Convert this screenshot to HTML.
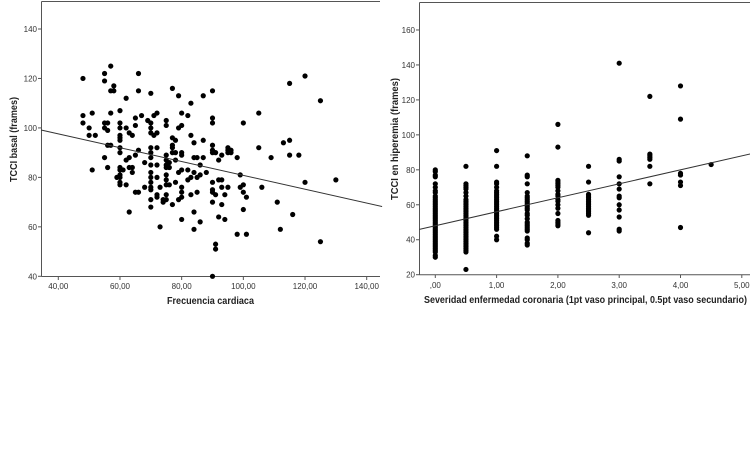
<!DOCTYPE html>
<html><head><meta charset="utf-8"><style>
html,body{margin:0;padding:0;background:#fff;}
svg{display:block;font-family:"Liberation Sans",Arial,sans-serif;}
</style></head><body>
<svg id="chart" width="750" height="469" viewBox="0 0 750 469" xmlns="http://www.w3.org/2000/svg"></svg>
<script>
// Chart 1 data: heart rate vs TCCI basal
const hr = [48,48,48,50,50,51,51,52,55,55,55,55,55,56,56,56,57,57,57,57,58,58,56,60,60,60,60,60,60,60,60,60,60,60,60,60,60,59,61,62,62,62,62,63,63,63,63,64,64,64,65,65,65,65,66,66,66,66,67,68,68,69,70,70,70,70,70,70,70,70,70,70,70,70,70,70,70,71,71,72,72,72,72,72,72,72,73,73,74,74,75,75,75,75,75,75,75,75,75,75,75,76,76,76,77,77,77,77,77,77,78,78,78,78,79,79,79,79,80,80,80,80,80,80,80,80,80,82,82,82,83,83,83,83,84,84,84,84,84,85,85,85,86,86,86,87,87,87,88,90,90,90,90,90,90,90,90,90,90,90,91,91,91,91,92,92,92,93,93,93,93,94,94,95,95,95,95,96,96,98,98,99,99,100,100,100,100,101,101,105,105,106,109,111,112,113,115,115,115,116,118,120,120,125,125,130];
const tcciBasal = [120,105,102,100,97,106,83,97,122,119,102,100,88,102,99,84,125,115,106,93,117,115,93,107,102,100,97,96,95,92,90,84,83,81,80,78,77,80,83,112,100,87,77,98,88,84,66,97,84,82,104,101,89,74,122,115,91,74,105,86,76,103,114,102,100,98,92,90,88,85,82,80,78,76,75,71,68,105,97,106,98,92,85,80,73,72,60,76,71,70,103,101,89,87,85,84,81,79,77,73,71,86,84,77,116,96,93,92,90,69,95,90,87,78,113,100,82,71,106,101,90,89,83,76,74,72,63,105,83,79,110,97,80,73,94,88,82,66,59,88,80,74,85,81,62,113,95,88,82,115,104,102,93,91,90,78,75,74,70,40,90,73,53,51,87,79,64,89,79,76,69,73,63,92,91,90,76,91,90,88,57,81,76,102,77,74,67,72,57,106,92,76,88,70,59,94,118,95,89,65,89,121,78,111,54,79];
const xTicks1 = [40,60,80,100,120,140];
const yTicks1 = [40,60,80,100,120,140];
const fit1 = [108.8, -0.28];
// Chart 2 data: severity categories vs TCCI hyperemia
const sevCats = [0,0.5,1,1.5,2,2.5,3,3.5,4,4.5];
const sevVals = [
 [80,79,77,76,72,70,68,67,65,64,63,62,61,60,59,58,57,56,55,54,53,52,51,50,49,48,47,46,45,44,43,42,41,40,39,38,37,36,35,34,33,31,30],
 [82,72,71,70,69,67,65,63,62,61,60,59,58,57,56,55,54,53,52,51,50,49,48,47,46,45,44,43,42,41,40,39,38,37,36,35,34,33,23],
 [91,82,73,72,70,68,67,66,65,64,63,62,61,60,59,58,57,56,55,54,53,52,51,50,49,48,47,46,42,40],
 [88,77,76,72,67,65,64,63,62,61,60,59,58,57,55,54,52,50,49,48,47,46,45,41,40,38,37],
 [106,93,74,73,72,71,70,68,66,65,63,62,60,58,55,51,50,49,48],
 [82,73,66,65,64,63,62,61,60,59,58,57,56,55,54,44],
 [141,86,85,76,72,69,65,64,60,57,53,46,45],
 [122,89,88,87,86,82,72],
 [128,109,78,77,73,71,47],
 [83]
];
const xTicks2 = [0,1,2,3,4,5];
const xTickLabels2 = [",00","1,00","2,00","3,00","4,00","5,00"];
const yTicks2 = [20,40,60,80,100,120,140,160];
const fit2 = [48, 8];

const svg = document.getElementById('chart');
const NS = 'http://www.w3.org/2000/svg';
function mk(tag, attrs, parent){const e=document.createElementNS(NS,tag);for(const k in attrs)e.setAttribute(k,attrs[k]);(parent||svg).appendChild(e);return e;}

const x1 = v => 58.3 + (v-40)*3.084;
const y1 = v => 276.3 - (v-40)*2.473;
const x2 = v => 435.3 + v*61.3;
const y2 = v => 274.7 - (v-20)*1.748;

function frame(g, L, T, R, B){
  mk('line',{x1:L,y1:T,x2:R,y2:T,stroke:'#555','stroke-width':1},g);
  mk('line',{x1:L,y1:T,x2:L,y2:B,stroke:'#555','stroke-width':1},g);
  mk('line',{x1:L,y1:B,x2:R,y2:B,stroke:'#555','stroke-width':1},g);
}

// Chart 1
const g1 = mk('g',{});


frame(g1,41.5,1.5,380,276.5);
xTicks1.forEach(t=>{
  mk('line',{x1:x1(t),y1:276.5,x2:x1(t),y2:280,stroke:'#555'},g1);
  const tx=mk('text',{x:x1(t),y:289,'font-size':8,'text-anchor':'middle',fill:'#333'},g1);
  tx.textContent=t.toFixed(2).replace('.',',');
  
  
});
yTicks1.forEach(t=>{
  mk('line',{x1:38,y1:y1(t),x2:41.5,y2:y1(t),stroke:'#555'},g1);
  const tx=mk('text',{x:37,y:y1(t)+3,'font-size':8,'text-anchor':'end',fill:'#333'},g1);
  tx.textContent=t;
  
  
});
hr.forEach((v,i)=>{
  const c=mk('circle',{cx:x1(v),cy:y1(tcciBasal[i]),r:2.6,fill:'#000'},g1);
  
  
});
{
  const xa=34.4, xb=145;
  const l=mk('line',{x1:x1(xa),y1:y1(fit1[0]+fit1[1]*xa),x2:x1(xb),y2:y1(fit1[0]+fit1[1]*xb),stroke:'#333','stroke-width':1},g1);
  
  
}
const xt1=mk('text',{x:167,y:304,'font-size':10,'font-weight':'bold',fill:'#222',textLength:87,lengthAdjust:'spacingAndGlyphs'},g1);
xt1.textContent='Frecuencia cardiaca';


const yt1=mk('text',{x:-182,y:17,'font-size':10,'font-weight':'bold',fill:'#222',transform:'rotate(-90)',textLength:85,lengthAdjust:'spacingAndGlyphs'},g1);
yt1.textContent='TCCI basal (frames)';



// Chart 2
const g2 = mk('g',{});


frame(g2,419.5,2.5,750,274.7);
xTicks2.forEach((t,i)=>{
  mk('line',{x1:x2(t),y1:274.7,x2:x2(t),y2:278,stroke:'#555'},g2);
  const tx=mk('text',{x:x2(t),y:288,'font-size':8,'text-anchor':'middle',fill:'#333'},g2);
  tx.textContent=xTickLabels2[i];
  
  
});
yTicks2.forEach(t=>{
  mk('line',{x1:416,y1:y2(t),x2:419.5,y2:y2(t),stroke:'#555'},g2);
  const tx=mk('text',{x:415,y:y2(t)+3,'font-size':8,'text-anchor':'end',fill:'#333'},g2);
  tx.textContent=t;
  
  
});
sevCats.forEach((c,i)=>{
  sevVals[i].forEach(v=>{
    const p=mk('circle',{cx:x2(c),cy:y2(v),r:2.6,fill:'#000'},g2);
    
    
  });
});
{
  const xa=-0.26, xb=5.3;
  const l=mk('line',{x1:x2(xa),y1:y2(fit2[0]+fit2[1]*xa),x2:x2(xb),y2:y2(fit2[0]+fit2[1]*xb),stroke:'#333','stroke-width':1},g2);
  
  
}
const xt2=mk('text',{x:424,y:303,'font-size':10,'font-weight':'bold',fill:'#222',textLength:323,lengthAdjust:'spacingAndGlyphs'},g2);
xt2.textContent='Severidad enfermedad coronaria (1pt vaso principal, 0.5pt vaso secundario)';


const yt2=mk('text',{x:-200,y:398,'font-size':10,'font-weight':'bold',fill:'#222',transform:'rotate(-90)',textLength:122,lengthAdjust:'spacingAndGlyphs'},g2);
yt2.textContent='TCCI en hiperemia (frames)';


</script>
</body></html>
